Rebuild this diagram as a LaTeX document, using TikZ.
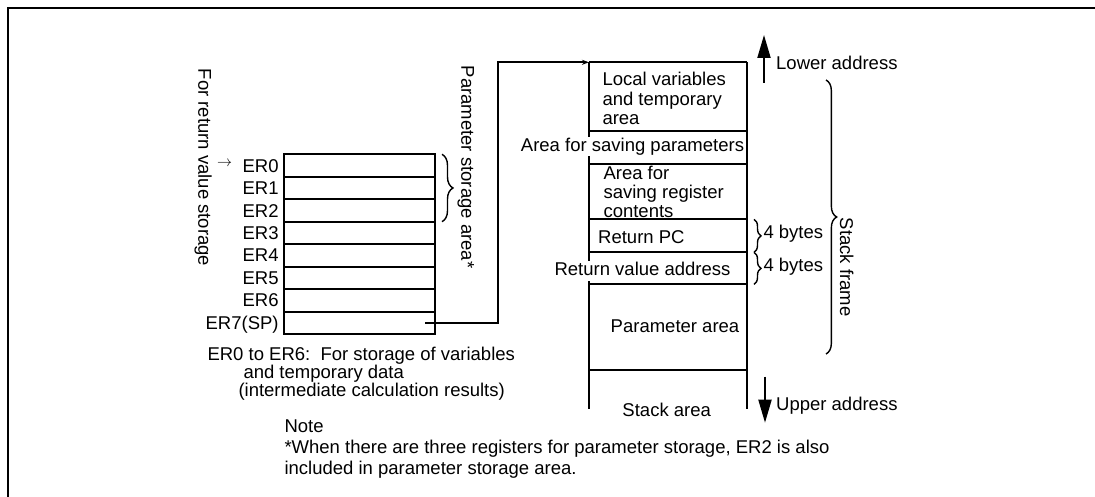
\documentclass[tikz,border=0pt]{standalone}
\usepackage{fontspec}
\setmainfont{Liberation Sans}
\usetikzlibrary{arrows.meta,decorations.pathreplacing,calc}
\begin{document}
\begin{tikzpicture}[x=1pt,y=-1pt,
  every node/.style={font=\fontsize{18.5}{19.5}\selectfont, inner sep=0pt},
  lbl/.style={text height=13.2pt, text depth=0pt},
  cover/.style={fill=white, text height=13.2pt, text depth=4pt, inner xsep=1pt, inner ysep=1pt},
  reg/.style={draw, line width=2pt, outer sep=0pt, minimum width=150.7pt, minimum height=22.46pt, anchor=north west},
  sline/.style={line width=2pt},
  conn/.style={line width=1.6pt, -{Stealth[length=7pt,width=5pt]}},
  bigarrow/.style={line width=2pt, -{Triangle[length=23pt,width=13pt]}},
  brc/.style={line width=1.4pt, decorate, decoration={brace, amplitude=#1}},
]
\useasboundingbox (0,0) rectangle (1095,497);
\draw[line width=2pt] (8,497) -- (8,8) -- (1095,8);

% registers
\node[reg] (r0) at (284.3,154.3) {};
\node[reg] (r1) at (r0.south west) {};
\node[reg] (r2) at (r1.south west) {};
\node[reg] (r3) at (r2.south west) {};
\node[reg] (r4) at (r3.south west) {};
\node[reg] (r5) at (r4.south west) {};
\node[reg] (r6) at (r5.south west) {};
\node[reg] (r7) at (r6.south west) {};
\foreach \i/\t in {0/ER0,1/ER1,2/ER2,3/ER3,4/ER4,5/ER5,6/ER6,7/ER7(SP)}{
  \node[lbl, anchor=east] (l\i) at ([xshift=-5.5pt]r\i.west) {\t};
}
\node[scale=1.5, font=\fontsize{10}{12}\selectfont] (arr) at (224.5,163.5) {$\rightarrow$};
\draw[brc=11pt] ([xshift=7pt]r0.north east) -- ([xshift=7pt]r2.south east);

\node[lbl, rotate=-90] (frv) at (205,167.5) {For return value storage};
\node[lbl, rotate=-90] (psa) at (468,167) {Parameter storage area*};

% stack
\coordinate (stl) at (589,62.3);
\coordinate (str) at (747.3,62.3);
\draw[sline] (stl) -- (589,409.3);
\draw[sline] (str) -- (747.3,409.3);
\foreach \y in {62.3,130.7,164.3,219.3,252.3,284.3,370}{
  \draw[sline] (589,\y) -- (747.3,\y);
}
\node[anchor=north west, align=left] (lv) at (602.3,72.1) {Local variables\\and temporary\\area};
\node[cover] (asp) at (632.5,146.9) {Area for saving parameters};
\node[anchor=north west, align=left, font=\fontsize{18.5}{19}\selectfont] (asr) at (603.3,166) {Area for\\saving register\\contents};
\node[lbl, anchor=west] (rpc) at (598,237.3) {Return PC};
\node[cover] (rva) at (642.5,270.9) {Return value address};
\node[lbl] (pa) at (675,326) {Parameter area};
\node[lbl] (sa) at (666.7,410) {Stack area};

% connector
\coordinate (sp) at (425,322.8);
\draw[conn] (sp) -- ++(73,0) |- (stl);

% address arrows
\coordinate (ua0) at (764,82.7);
\coordinate (ua1) at (764,35);
\draw[bigarrow] (ua0) -- (ua1);
\node[lbl, anchor=west] (la) at (776,63) {Lower address};
\coordinate (da0) at (765,376.7);
\coordinate (da1) at (765,422.7);
\draw[bigarrow] (da0) -- (da1);
\node[lbl, anchor=west] (ula) at (776,404) {Upper address};

% braces
\draw[brc=7pt] (754,219.3) -- (754,252.3);
\draw[brc=7pt] (754,252.3) -- (754,284.3);
\node[lbl, anchor=west] (b1) at (763.3,232.3) {4 bytes};
\node[lbl, anchor=west] (b2) at (763.3,265) {4 bytes};
\draw[brc=10.7pt] (826,80) -- (826,354);
\node[lbl, rotate=-90] (sf) at (846.7,267.3) {Stack frame};

% notes
\node[anchor=north west, align=left, font=\fontsize{18.5}{16.7}\selectfont] (n1) at (207.3,346.4)
  {ER0 to ER6:\ \ For storage of variables\\\hspace*{36pt}and temporary data\\\hspace*{31pt}(intermediate calculation results)};
\node[anchor=north west, align=left, font=\fontsize{18.5}{21}\selectfont] (n2) at (284.3,419.4)
  {Note\\*When there are three registers for parameter storage, ER2 is also\\included in parameter storage area.};
\end{tikzpicture}
\end{document}
